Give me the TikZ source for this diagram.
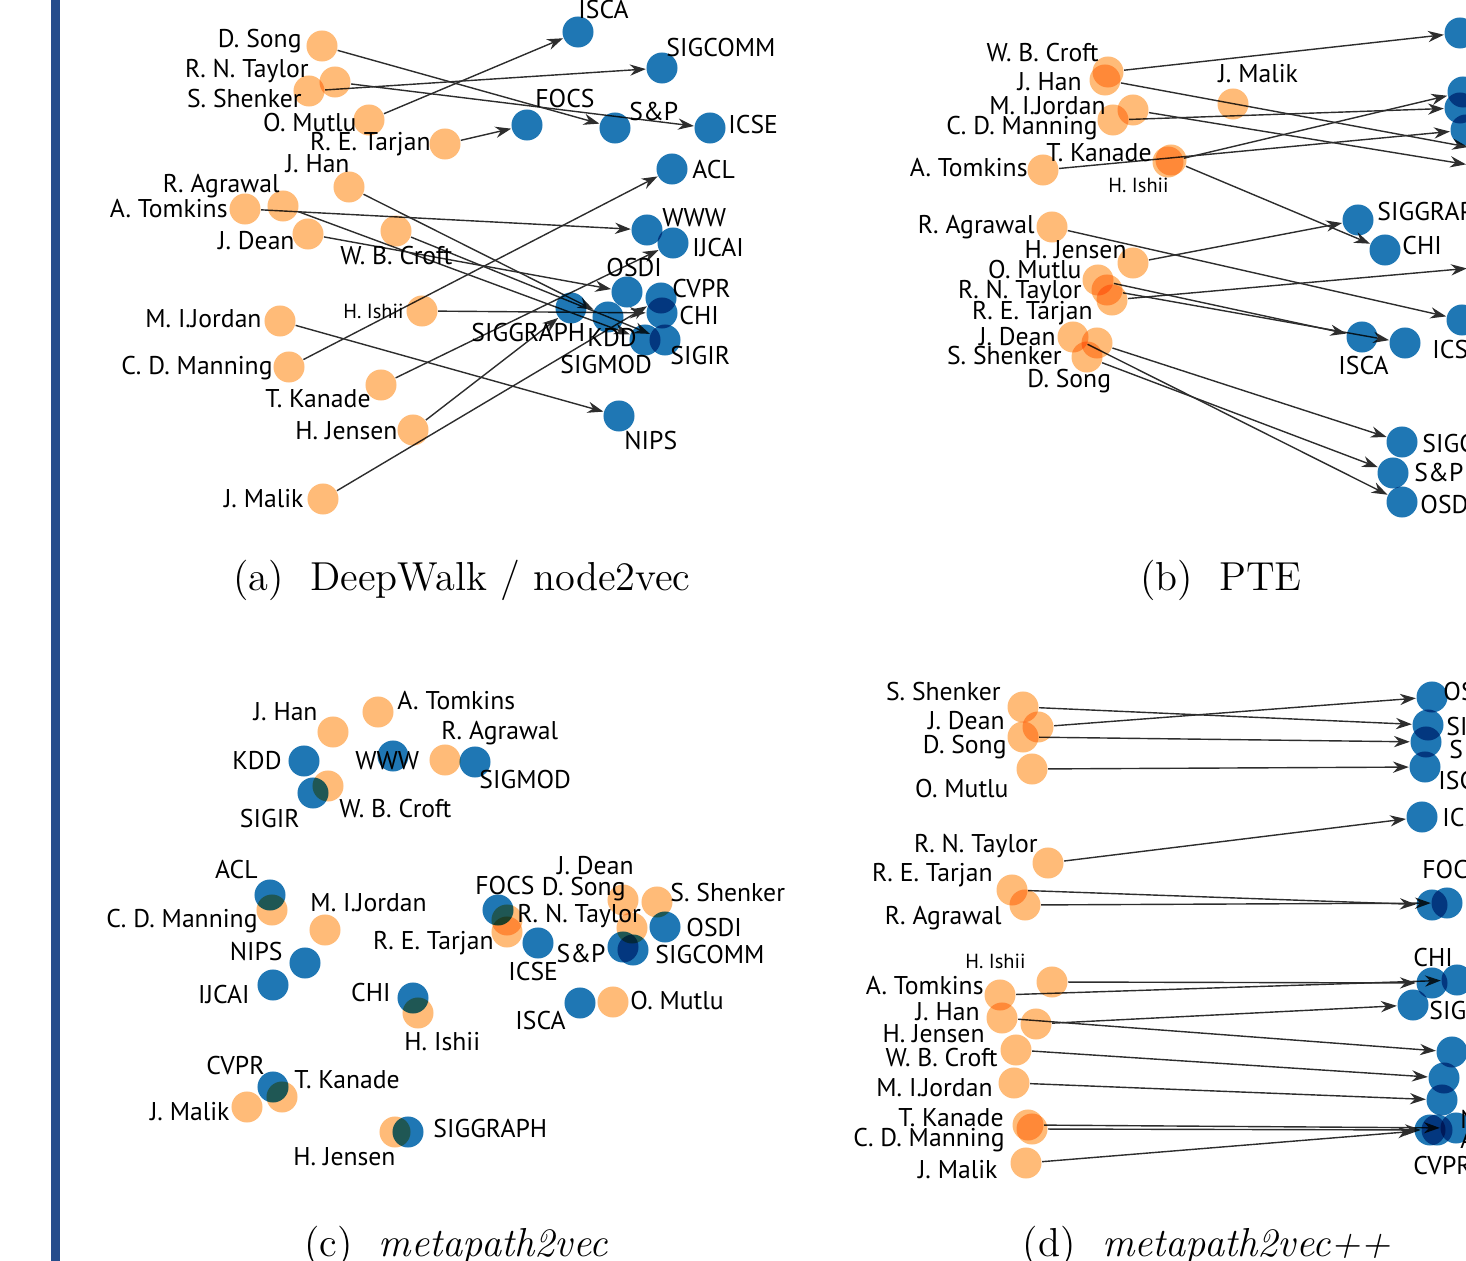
\documentclass[tikz,border=0pt]{standalone}
\usepackage{fontspec}
\usepackage{tikz}
\usetikzlibrary{arrows.meta, backgrounds}
\newfontfamily\lblfont{PT Sans}
\definecolor{venueblue}{HTML}{1F77B4}
\definecolor{authorange}{HTML}{FFBB78}
\definecolor{barblue}{RGB}{37,77,140}
\definecolor{edgegray}{RGB}{45,45,45}

\tikzset{
  auth/.style={circle, fill=authorange, minimum size=0.31cm, inner sep=0pt},
  venue/.style={circle, fill=venueblue, minimum size=0.31cm, inner sep=0pt},
  lbl/.style={font=\lblfont\fontsize{7.3}{8.5}\selectfont, inner sep=0.5pt},
  smalllbl/.style={font=\lblfont\fontsize{5.8}{7}\selectfont, inner sep=0.5pt},
  edge/.style={draw=edgegray, line width=0.4pt, -{Stealth[length=4.5pt, width=3.2pt]}},
  caption/.style={font=\fontsize{11.5}{14}\selectfont}
}

% author / venue point with its label
\newcommand{\au}[6][lbl]{\node[auth] (#2) at (#3) {}; \node[#1, anchor=#4] (#2-l) at (#5) {#6};}
\newcommand{\ve}[6][lbl]{\node[venue] (#2) at (#3) {}; \node[#1, anchor=#4] (#2-l) at (#5) {#6};}

\begin{document}
\begin{tikzpicture}[x=0.01cm, y=-0.01cm, >=Stealth]

\useasboundingbox (0,0) rectangle (1466,1261);
\clip (0,0) rectangle (1466,1261);

% Barre gauche
\fill[barblue] (51,0) rectangle (60,1261);

\begin{scope}[blend mode=multiply]

% (a) DeepWalk / node2vec
\au{aSong}{322,46}{east}{304,41}{D. Song}
\au{aTaylor}{335,82}{east}{311,71}{R. N. Taylor}
\au{aShenker}{309,91}{east}{304,99}{S. Shenker}
\au{aMutlu}{369,120}{east}{359,123}{O. Mutlu}
\au{aTarjan}{445,144}{east}{433,144}{R. E. Tarjan}
\au{aHan}{349,187}{east}{352,164}{J. Han}
\au{aAgrawal}{283,206}{east}{282,186}{R. Agrawal}
\au{aTomkins}{245,209}{east}{230,209}{A. Tomkins}
\au{aDean}{308,234}{east}{297,241}{J. Dean}
\au{aCroft}{396,231}{west}{338,256}{W. B. Croft}
\au{aJordan}{280,321}{east}{264,319}{M. I.Jordan}
\au{aManning}{289,367}{east}{275,368}{C. D. Manning}
\au[smalllbl]{aIshii}{422,311}{east}{406,311}{H. Ishii}
\au{aKanade}{381,385}{east}{373,399}{T. Kanade}
\au{aJensen}{413,430}{east}{400,431}{H. Jensen}
\au{aMalik}{323,499}{east}{306,499}{J. Malik}

\ve{aISCA}{578,32}{west}{576,10}{ISCA}
\ve{aSIGCOMM}{662,68}{west}{664,48}{SIGCOMM}
\ve{aFOCS}{527,125}{west}{533,99}{FOCS}
\ve{aSP}{615,128}{west}{627,112}{S\&P}
\ve{aICSE}{710,128}{west}{726,125}{ICSE}
\ve{aACL}{672,169}{west}{690,170}{ACL}
\ve{aWWW}{647,230}{west}{660,218}{WWW}
\ve{aIJCAI}{673,243}{west}{690,248}{IJCAI}
\ve{aOSDI}{627,292}{west}{604,268}{OSDI}
\ve{aCVPR}{661,298}{west}{670,289}{CVPR}
\ve{aCHI}{662,313}{west}{677,316}{CHI}
\ve{aSIGGRAPH}{571,308}{west}{469,333}{SIGGRAPH}
\ve{aKDD}{608,317}{west}{585,338}{KDD}
\ve{aSIGIR}{665,340}{west}{668,356}{SIGIR}
\ve{aSIGMOD}{645,340}{west}{558,365}{SIGMOD}
\ve{aNIPS}{619,416}{west}{622,441}{NIPS}

% (b) PTE
\au{bCroft}{1108,72}{east}{1101,53}{W. B. Croft}
\au{bHan}{1105,80}{east}{1084,82}{J. Han}
\au{bJordan}{1133,110}{east}{1108,106}{M. I.Jordan}
\au{bManning}{1113,120}{east}{1100,128}{C. D. Manning}
\au{bTomkins}{1043,170}{east}{1030,168}{A. Tomkins}
\au{bKanade}{1168,162}{east}{1154,153}{T. Kanade}
\au[smalllbl]{bIshii}{1171,160}{west}{1106,185}{H. Ishii}
\au{bMalik}{1233,104}{west}{1216,74}{J. Malik}
\au{bAgrawal}{1052,227}{east}{1037,227}{R. Agrawal}
\au{bJensen}{1133,263}{east}{1129,250}{H. Jensen}
\au{bMutlu}{1098,280}{east}{1084,270}{O. Mutlu}
\au{bTaylor}{1107,290}{east}{1084,292}{R. N. Taylor}
\au{bTarjan}{1112,300}{east}{1095,313}{R. E. Tarjan}
\au{bDean}{1073,337}{east}{1058,337}{J. Dean}
\au{bShenker}{1097,343}{east}{1064,356}{S. Shenker}
\au{bSong}{1087,357}{west}{1025,381}{D. Song}

\node[venue] (bSIGIR) at (1460,33) {};
\node[venue] (bCVPR) at (1463,92) {};
\node[venue] (bACL) at (1460,108) {};
\node[venue] (bWWW) at (1466,130) {};
\node[venue] (bKDD) at (1484,150) {};
\node[venue] (bNIPS) at (1482,167) {};
\node[venue] (bFOCS) at (1483,267) {};
\node[venue] (bSIGMOD) at (1462,320) {};
\ve{bSIGGRAPH}{1358,220}{west}{1375,212}{SIGGRAPH}
\ve{bCHI}{1385,250}{west}{1400,246}{CHI}
\ve{bISCA}{1362,337}{west}{1336,366}{ISCA}
\ve{bICSE}{1405,343}{west}{1430,350}{ICSE}
\ve{bSIGCOMM}{1402,442}{west}{1420,444}{SIGCOMM}
\ve{bSP}{1393,473}{west}{1412,473}{S\&P}
\ve{bOSDI}{1402,502}{west}{1418,505}{OSDI}

% (c) metapath2vec
\au{cHan}{333,732}{east}{320,712}{J. Han}
\au{cTomkins}{378,712}{west}{395,701}{A. Tomkins}
\ve{cKDD}{304,761}{east}{284,761}{KDD}
\ve{cWWW}{393,756}{west}{353,761}{WWW}
\au{cCroft}{328,786}{west}{337,809}{W. B. Croft}
\ve{cSIGIR}{313,793}{east}{302,819}{SIGIR}
\au{cAgrawal}{445,760}{west}{439,733}{R. Agrawal}
\ve{cSIGMOD}{475,762}{west}{477,780}{SIGMOD}
\au{cTaylor}{507,920}{west}{515,916}{R. N. Taylor}
\au{cTarjan}{507,932}{east}{496,943}{R. E. Tarjan}
\ve{cFOCS}{498,910}{west}{473,886}{FOCS}
\ve{cICSE}{538,943}{west}{506,972}{ICSE}
\au{cSong}{623,900}{east}{628,889}{D. Song}
\au{cDean}{632,928}{east}{636,866}{J. Dean}
\au{cShenker}{657,902}{west}{668,893}{S. Shenker}
\ve{cOSDI}{665,927}{west}{684,928}{OSDI}
\ve{cSP}{623,947}{east}{608,954}{S\&P}
\ve{cSIGCOMM}{633,950}{west}{653,955}{SIGCOMM}
\ve{cISCA}{580,1003}{east}{568,1021}{ISCA}
\au{cMutlu}{613,1002}{west}{628,1001}{O. Mutlu}
\au{cIshii}{418,1013}{west}{402,1042}{H. Ishii}
\ve{cCHI}{413,998}{east}{393,993}{CHI}
\au{cManning}{272,910}{east}{260,921}{C. D. Manning}
\ve{cACL}{270,895}{east}{260,870}{ACL}
\au{cJordan}{325,930}{west}{308,903}{M. I.Jordan}
\ve{cNIPS}{305,963}{east}{285,952}{NIPS}
\ve{cIJCAI}{273,985}{east}{252,995}{IJCAI}
\au{cKanade}{282,1097}{west}{292,1080}{T. Kanade}
\ve{cCVPR}{273,1087}{east}{267,1066}{CVPR}
\au{cMalik}{247,1107}{east}{232,1112}{J. Malik}
\au{cJensen}{395,1132}{east}{398,1157}{H. Jensen}
\ve{cSIGGRAPH}{408,1132}{west}{431,1129}{SIGGRAPH}

% (d) metapath2vec++
\au{dShenker}{1023,707}{east}{1003,692}{S. Shenker}
\au{dDean}{1038,727}{east}{1007,721}{J. Dean}
\au{dSong}{1023,737}{east}{1009,747}{D. Song}
\au{dMutlu}{1032,769}{east}{1011,789}{O. Mutlu}
\au{dTaylor}{1048,863}{east}{1040,846}{R. N. Taylor}
\au{dTarjan}{1012,890}{east}{995,875}{R. E. Tarjan}
\au{dAgrawal}{1025,905}{east}{1004,918}{R. Agrawal}
\au[smalllbl]{dIshii}{1052,982}{east}{1028,961}{H. Ishii}
\au{dTomkins}{1000,995}{east}{986,986}{A. Tomkins}
\au{dHan}{1002,1018}{east}{982,1012}{J. Han}
\au{dJensen}{1036,1024}{east}{987,1034}{H. Jensen}
\au{dCroft}{1016,1050}{east}{1000,1058}{W. B. Croft}
\au{dJordan}{1014,1083}{east}{995,1088}{M. I.Jordan}
\au{dKanade}{1028,1125}{east}{1006,1118}{T. Kanade}
\au{dManning}{1032,1129}{east}{1007,1140}{C. D. Manning}
\au{dMalik}{1026,1163}{east}{1000,1170}{J. Malik}

\ve{dOSDI}{1432,697}{west}{1441,692}{OSDI}
\ve{dSIGCOMM}{1428,725}{west}{1444,727}{SIGCOMM}
\ve{dSP}{1426,742}{west}{1447,750}{S\&P}
\ve{dISCA}{1425,767}{west}{1436,781}{ISCA}
\ve{dICSE}{1422,817}{west}{1440,818}{ICSE}
\ve{dFOCS}{1432,905}{west}{1420,870}{FOCS}
\node[venue] (dSIGMOD) at (1447,903) {};
\ve{dCHI}{1432,983}{west}{1411,958}{CHI}
\node[venue] (dWWW) at (1457,980) {};
\ve{dSIGGRAPH}{1413,1005}{west}{1427,1011}{SIGGRAPH}
\node[venue] (dKDD) at (1452,1052) {};
\node[venue] (dSIGIR) at (1444,1078) {};
\ve{dNIPS}{1442,1100}{west}{1458,1120}{NIPS}
\node[venue] (dIJCAI) at (1456,1128) {};
\ve{dACL}{1437,1130}{west}{1458,1140}{ACL}
\ve{dCVPR}{1430,1130}{west}{1411,1166}{CVPR}

\end{scope}

% Aretes auteur -> conference
\begin{scope}[on background layer]
\foreach \s/\t in {aSong/aSP, aTaylor/aICSE, aShenker/aSIGCOMM, aMutlu/aISCA,
    aTarjan/aFOCS, aHan/aKDD, aAgrawal/aSIGMOD, aTomkins/aWWW, aDean/aOSDI,
    aCroft/aSIGIR, aJordan/aNIPS, aManning/aACL, aIshii/aCHI, aKanade/aIJCAI,
    aJensen/aSIGGRAPH, aMalik/aCVPR}
  \draw[edge] (\s) -- (\t);
\foreach \s/\t in {bCroft/bSIGIR, bHan/bKDD, bJordan/bNIPS, bManning/bACL,
    bTomkins/bWWW, bKanade/bCVPR, bIshii/bCHI, bJensen/bSIGGRAPH,
    bAgrawal/bSIGMOD, bMutlu/bISCA, bTaylor/bICSE, bTarjan/bFOCS,
    bShenker/bSIGCOMM, bSong/bSP, bDean/bOSDI}
  \draw[edge] (\s) -- (\t);
\foreach \s/\t in {dShenker/dSIGCOMM, dDean/dOSDI, dSong/dSP, dMutlu/dISCA,
    dTaylor/dICSE, dTarjan/dFOCS, dAgrawal/dSIGMOD, dIshii/dCHI,
    dTomkins/dWWW, dJensen/dSIGGRAPH, dHan/dKDD, dCroft/dSIGIR,
    dJordan/dNIPS, dKanade/dIJCAI, dManning/dACL, dMalik/dCVPR}
  \draw[edge] (\s) -- (\t);
\end{scope}

% Legendes
\node[caption] (capA) at (462,580) {(a)\ \ DeepWalk / node2vec};
\node[caption] (capB) at (1221,580) {(b)\ \ PTE};
\node[caption] (capC) at (456,1246) {(c)\ \ \textit{metapath2vec}};
\node[caption] (capD) at (1207,1246) {(d)\ \ \textit{metapath2vec++}};

\end{tikzpicture}
\end{document}
